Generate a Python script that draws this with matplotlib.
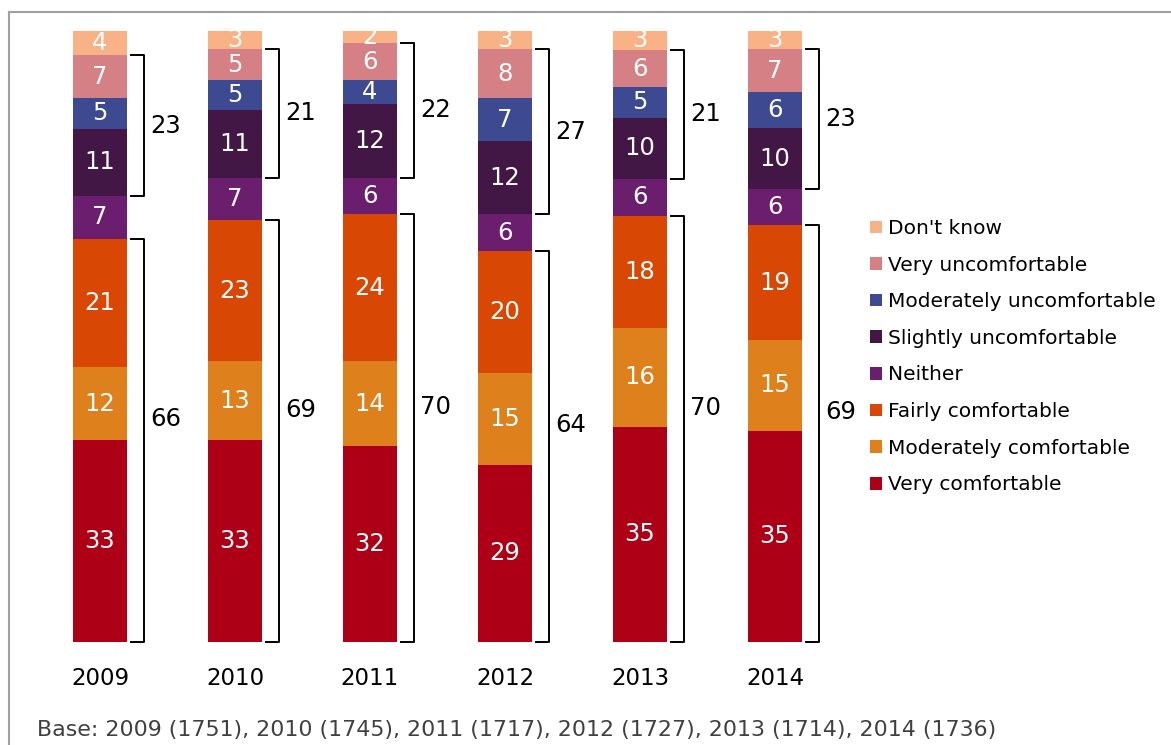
import matplotlib
matplotlib.use("Agg")
import matplotlib.pyplot as plt
from matplotlib.patches import Patch
from matplotlib.lines import Line2D
import numpy as np

plt.rcParams['font.family'] = ['DejaVu Sans']

years = ["2009", "2010", "2011", "2012", "2013", "2014"]
categories = ["Very comfortable", "Moderately comfortable", "Fairly comfortable",
              "Neither", "Slightly uncomfortable", "Moderately uncomfortable",
              "Very uncomfortable", "Don't know"]
very_comfortable = [33, 33, 32, 29, 35.2, 34.6]
moderately_comfortable = [12, 13, 14, 15, 16.2, 14.8]
fairly_comfortable = [21, 23, 24, 20, 18.3, 18.8]
neither = [7, 7, 6, 6, 6.1, 5.9]
slightly_uncomfortable = [11, 11, 12, 12, 10.0, 10.0]
moderately_uncomfortable = [5, 5, 4, 7, 5.0, 5.9]
very_uncomfortable = [7, 5, 6, 8, 6.1, 7.0]
dont_know = [4, 3, 2, 3, 3.1, 3.0]
comfortable_total = [66, 69, 70, 64, 70, 69]
uncomfortable_total = [23, 21, 22, 27, 21, 23]
base_note = "Base: 2009 (1751), 2010 (1745), 2011 (1717), 2012 (1727), 2013 (1714), 2014 (1736)"

series = [very_comfortable, moderately_comfortable, fairly_comfortable, neither,
          slightly_uncomfortable, moderately_uncomfortable, very_uncomfortable, dont_know]
colors = ["#AD0017", "#DE801B", "#D84804", "#6B1E6E", "#421746", "#3D4A91", "#D58084", "#F9B286"]

W, H = 1171, 745
fig = plt.figure(figsize=(W / 100, H / 100), dpi=100)
# axes: x positions 0..5 -> pixel centers 100..775 (135 px per unit)
L, R = 32.5, 842.5
B, T = 642, 31
ax = fig.add_axes([L / W, (H - B) / H, (R - L) / W, (B - T) / H])
ax.set_xlim(-0.5, 5.5)
ax.set_ylim(0, 100)
for s in ax.spines.values():
    s.set_visible(False)
ax.set_yticks([])

x = np.arange(len(years))
bw = 54 / 135
bottom = np.zeros(len(years))
for vals, col in zip(series, colors):
    v = np.array(vals, dtype=float)
    ax.bar(x, v, bw, bottom=bottom, color=col, linewidth=0, clip_on=False)
    for xi, b, val in zip(x, bottom, v):
        ax.text(xi, b + val / 2, f"{val:.0f}", ha="center", va="center",
                color="white", fontsize=17.5, clip_on=False)
    bottom += v

ax.set_xticks(x)
ax.set_xticklabels(years, fontsize=16.5, color="black")
ax.tick_params(axis="x", length=0, pad=18)

# brackets
half = bw / 2
tick0 = half + 4 / 135
vert = half + 17 / 135
txt = vert + 6 / 135
cum = np.cumsum(np.array(series), axis=0)
for i in range(len(years)):
    lo0, lo1 = 0, cum[2][i]
    up0, up1 = cum[3][i], cum[6][i]
    for y0, y1, lab, off in [(lo0, lo1, comfortable_total[i], 3.5),
                             (up0, up1, uncomfortable_total[i], 0.0)]:
        ax.plot([x[i] + tick0, x[i] + vert, x[i] + vert, x[i] + tick0],
                [y1, y1, y0, y0], color="black", lw=1.4, clip_on=False,
                solid_joinstyle="round")
        ax.text(x[i] + txt, (y0 + y1) / 2 + off, f"{lab}", ha="left", va="center",
                fontsize=17.5, color="black", clip_on=False)

# legend
handles = [Patch(facecolor=c, edgecolor="none") for c in colors][::-1]
labels = categories[::-1]
fig.legend(handles, labels, loc="upper left",
           bbox_to_anchor=(870 / W, 1 - 219 / H), frameon=False,
           fontsize=14.5, handlelength=0.58, handleheight=0.58,
           handletextpad=0.3, labelspacing=0.875, borderpad=0, borderaxespad=0)

# base note
fig.text(37 / W, (H - 730) / H, base_note, ha="left", va="center",
         fontsize=15.9, color="#404040")

# frame lines
fig.add_artist(Line2D([9 / W, 1.0], [1 - 12 / H, 1 - 12 / H], color="#A0A0A0", lw=1.5,
                      transform=fig.transFigure))
fig.add_artist(Line2D([9 / W, 9 / W], [0, 1 - 12 / H], color="#A0A0A0", lw=1.5,
                      transform=fig.transFigure))

fig.savefig("out.png", dpi=100)
